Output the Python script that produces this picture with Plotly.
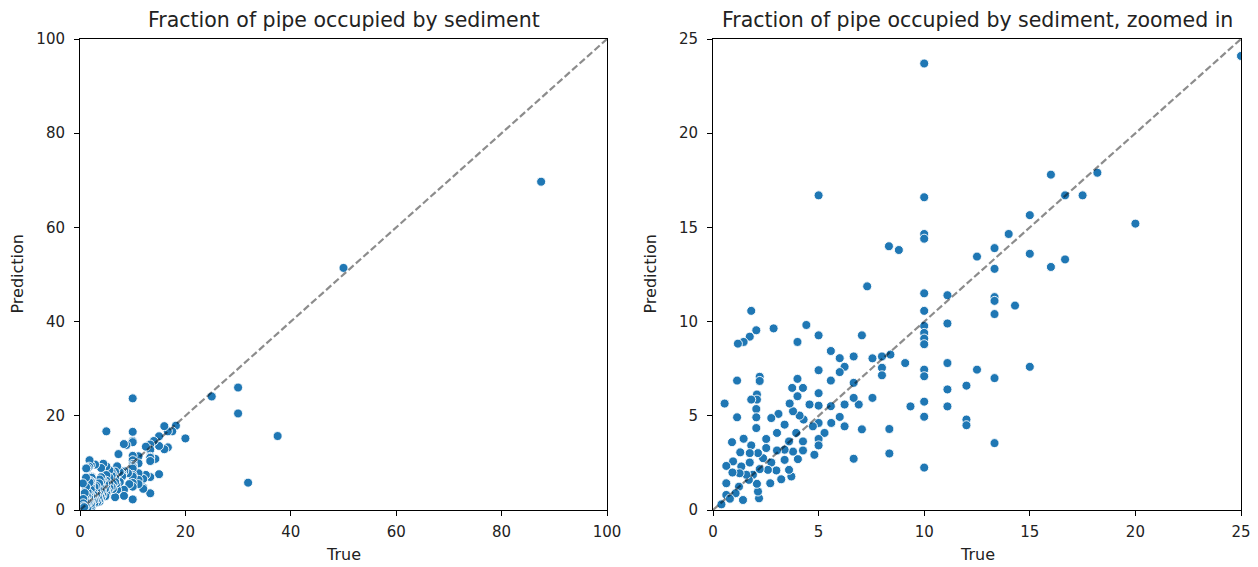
import plotly.graph_objects as go

# Observed vs predicted fraction of pipe occupied by sediment (%)
true_vals = [
    87.5, 50.0, 37.5, 31.9, 30.0, 30.0, 25.0, 20.0, 18.2, 17.5, 16.67, 16.0, 16.67, 16.0,
    15.0, 15.0, 15.0, 14.3, 14.0, 13.33, 13.33, 13.33, 13.33, 13.33, 13.33, 13.33, 12.5, 12.5,
    12.0, 12.0, 12.0, 11.1, 11.1, 11.1, 11.1, 11.1, 10.0, 10.0, 10.0, 10.0, 10.0, 10.0, 10.0,
    10.0, 10.0, 10.0, 10.0, 10.0, 10.0, 10.0, 10.0, 9.35, 9.1, 8.8, 8.33, 8.4, 8.35, 8.35,
    8.0, 8.0, 8.0, 7.55, 7.55, 7.3, 7.05, 7.05, 6.9, 6.66, 6.66, 6.66, 6.66, 6.23, 6.23, 6.23,
    6.0, 6.0, 6.0, 5.58, 5.58, 5.58, 5.6, 5.28, 5.0, 5.0, 5.0, 5.0, 5.0, 5.0, 5.0, 5.0, 4.8,
    4.73, 4.57, 4.42, 4.29, 4.26, 4.26, 4.26, 4.1, 4.0, 4.0, 4.0, 3.94, 4.02, 3.79, 3.79, 3.75,
    3.71, 3.63, 3.6, 3.6, 3.39, 3.39, 3.39, 3.23, 3.1, 3.03, 3.03, 3.0, 2.87, 2.76, 2.76, 2.71,
    2.6, 2.52, 2.52, 2.37, 2.21, 2.21, 2.21, 2.18, 2.13, 2.13, 2.08, 2.08, 2.08, 2.05, 2.05,
    2.05, 2.05, 1.89, 1.81, 1.81, 1.81, 1.74, 1.74, 1.74, 1.7, 1.58, 1.45, 1.45, 1.42, 1.34,
    1.29, 1.26, 1.23, 1.18, 1.14, 1.14, 1.07, 0.95, 0.92, 0.9, 0.63, 0.63, 0.63, 0.55, 0.4, 0.8,
]
pred_vals = [
    69.7, 51.4, 15.7, 5.8, 26.0, 20.5, 24.1, 15.2, 17.9, 16.7, 16.7, 17.8, 13.3, 12.9,
    15.65, 13.6, 7.6, 10.85, 14.65, 13.9, 12.8, 11.3, 11.1, 10.4, 7.0, 3.55, 13.45, 7.45,
    6.6, 4.8, 4.5, 11.4, 9.9, 7.8, 6.4, 5.5, 23.7, 16.6, 14.65, 14.4, 11.5, 10.57, 9.77,
    9.4, 9.1, 8.8, 7.45, 7.1, 5.75, 4.95, 2.25, 5.5, 7.8, 13.8, 14.0, 8.25, 4.3, 3.0,
    8.15, 7.55, 7.15, 8.05, 5.95, 11.87, 9.27, 4.28, 5.6, 8.15, 6.75, 5.95, 2.72, 7.6, 5.6, 4.44,
    8.06, 7.32, 4.94, 8.44, 6.87, 5.51, 4.62, 4.09, 16.7, 9.27, 7.42, 6.2, 5.54, 4.62, 3.77, 3.43, 2.93,
    4.44, 5.6, 9.82, 4.8, 6.48, 3.64, 3.16, 5.01, 8.92, 6.96, 6.04, 4.09, 2.7, 5.24, 3.1, 6.48,
    1.78, 5.65, 3.64, 2.13, 4.53, 3.2, 2.66, 1.63, 5.1, 4.09, 3.16, 2.1, 9.64, 4.88, 2.52, 1.42,
    2.13, 3.77, 3.29, 2.75, 7.07, 6.85, 2.17, 0.62, 3.02, 0.98, 6.13, 5.86, 1.39, 9.54, 5.36,
    4.92, 4.35, 1.87, 10.57, 5.86, 3.43, 9.2, 3.02, 2.52, 1.6, 1.87, 8.92, 3.78, 0.53, 2.31,
    3.06, 1.95, 1.24, 8.83, 6.87, 4.92, 0.89, 2.58, 1.99, 3.6, 2.34, 1.42, 0.8, 5.65, 0.3, 0.6,
]

panel_titles = ["Fraction of pipe occupied by sediment",
                "Fraction of pipe occupied by sediment, zoomed in"]
panel_limits = [100, 25]
panel_ticks = [[0, 20, 40, 60, 80, 100], [0, 5, 10, 15, 20, 25]]
x_label = "True"
y_label = "Prediction"

W, H = 1258, 567
x_domains = [[80 / W, 607 / W], [713 / W, 1241 / W]]
y_domain = [57 / H, 528 / H]

FONT = "DejaVu Sans, sans-serif"
INK = "#222222"
fig = go.Figure()

for i in range(2):
    xa = "x" if i == 0 else "x2"
    ya = "y" if i == 0 else "y2"
    fig.add_trace(go.Scatter(
        x=true_vals, y=pred_vals, mode="markers", xaxis=xa, yaxis=ya,
        marker=dict(color="#1f77b4", size=9, line=dict(color="white", width=0.9)),
        showlegend=False, hoverinfo="x+y",
    ))
    lim = panel_limits[i]
    # identity reference line
    fig.add_trace(go.Scatter(
        x=[0, lim], y=[0, lim], mode="lines", xaxis=xa, yaxis=ya,
        line=dict(color="rgba(0,0,0,0.45)", width=2.2, dash="7px,3px"),
        showlegend=False, hoverinfo="skip",
    ))

axis_common = dict(
    showline=True, linecolor="black", linewidth=1, mirror=True,
    ticks="outside", ticklen=5, tickcolor="black", tickwidth=1,
    showgrid=False, zeroline=False, automargin=False,
    tickfont=dict(family=FONT, size=15, color=INK),
)

layout = dict(
    width=W, height=H,
    margin=dict(l=0, r=0, t=0, b=0, autoexpand=False),
    paper_bgcolor="white", plot_bgcolor="white",
    font=dict(family=FONT, color=INK),
)
for i in range(2):
    sfx = "" if i == 0 else "2"
    lim = panel_limits[i]
    layout["xaxis" + sfx] = dict(
        axis_common, domain=x_domains[i], range=[0, lim], tickvals=panel_ticks[i],
        anchor="y" + sfx, ticklabelstandoff=3,
    )
    layout["yaxis" + sfx] = dict(
        axis_common, domain=y_domain, range=[0, lim], tickvals=panel_ticks[i],
        anchor="x" + sfx, ticklabelstandoff=6,
    )

fig.update_layout(**layout)

# panel titles and axis labels placed as paper annotations
for i in range(2):
    cx = sum(x_domains[i]) / 2
    fig.add_annotation(
        text=panel_titles[i], xref="paper", yref="paper",
        x=cx, y=1 - 20 / H, yanchor="middle", xanchor="center",
        showarrow=False, font=dict(family=FONT, size=20.5, color=INK),
    )
    fig.add_annotation(
        text=x_label, xref="paper", yref="paper",
        x=cx, y=1 - 554 / H, yanchor="middle", xanchor="center",
        showarrow=False, font=dict(family=FONT, size=16, color=INK),
    )
    fig.add_annotation(
        text=y_label, xref="paper", yref="paper", textangle=-90,
        x=(x_domains[i][0] * W - 63) / W, y=sum(y_domain) / 2,
        yanchor="middle", xanchor="center",
        showarrow=False, font=dict(family=FONT, size=16, color=INK),
    )

fig.write_html("out.html")
